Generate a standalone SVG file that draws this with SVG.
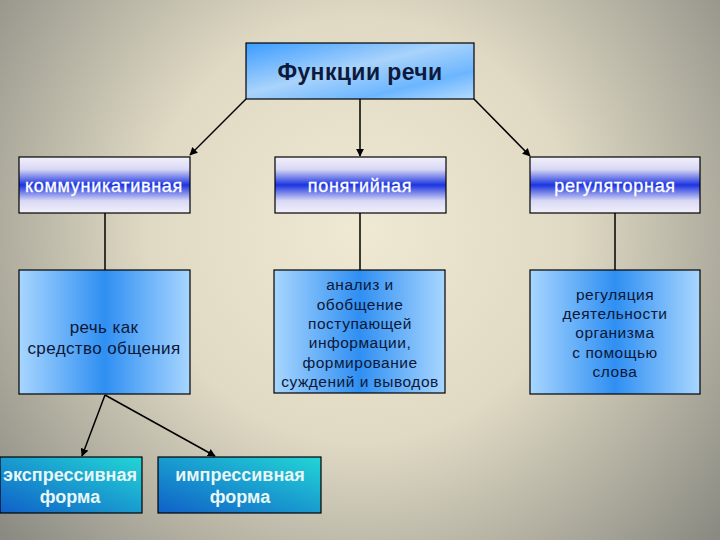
<svg xmlns="http://www.w3.org/2000/svg" width="720" height="540" viewBox="0 0 720 540">
<defs>
<radialGradient id="bg" cx="360" cy="230" r="470" gradientUnits="userSpaceOnUse">
<stop offset="0" stop-color="#efe9d4"/>
<stop offset="0.45" stop-color="#e0dac4"/>
<stop offset="1" stop-color="#8a8a82"/>
</radialGradient>
<linearGradient id="gTop" x1="0" y1="0" x2="1" y2="1">
<stop offset="0" stop-color="#3a9cff"/>
<stop offset="0.45" stop-color="#a9d3fb"/>
<stop offset="0.75" stop-color="#6cb6ff"/>
<stop offset="1" stop-color="#b4dcff"/>
</linearGradient>
<linearGradient id="gMid" x1="0" y1="0" x2="0" y2="1">
<stop offset="0" stop-color="#f2f0fb"/>
<stop offset="0.22" stop-color="#d8d8f4"/>
<stop offset="0.5" stop-color="#1b34e0"/>
<stop offset="0.78" stop-color="#d8d8f4"/>
<stop offset="1" stop-color="#f2f0fb"/>
</linearGradient>
<linearGradient id="gLow" x1="0" y1="0" x2="1" y2="0">
<stop offset="0" stop-color="#a8d6ff"/>
<stop offset="0.5" stop-color="#2f8ff2"/>
<stop offset="1" stop-color="#a8d6ff"/>
</linearGradient>
<linearGradient id="gBot" x1="1" y1="0" x2="0" y2="1">
<stop offset="0" stop-color="#22d6d6"/>
<stop offset="1" stop-color="#1060c8"/>
</linearGradient>
<marker id="arr" viewBox="0 0 10 10" refX="9" refY="5" markerWidth="8" markerHeight="8" markerUnits="userSpaceOnUse" orient="auto">
<path d="M0,0 L10,5 L0,10 z" fill="#000"/>
</marker>
<style>
.box{stroke:#000;stroke-width:1.2}
.line{stroke:#000;stroke-width:1.5;fill:none}
.t{font-family:"Liberation Sans",Arial,sans-serif;text-anchor:middle}
.top{font-size:23px;font-weight:bold;fill:#0d1a3c;letter-spacing:0.4px}
.mid{font-size:18px;fill:#ffffff;stroke:#ffffff;stroke-width:0.3;letter-spacing:0.7px}
.low{font-size:15.5px;fill:#0c1838;letter-spacing:0.5px}
.big{font-size:17px;letter-spacing:0.4px}
.bot{font-size:18px;font-weight:bold;fill:#e8f6f6}
</style>
</defs>
<rect x="0" y="0" width="720" height="540" fill="url(#bg)"/>
<g id="connectors">
<line class="line" x1="246" y1="99" x2="190" y2="155" marker-end="url(#arr)"/>
<line class="line" x1="360" y1="99" x2="360" y2="156" marker-end="url(#arr)"/>
<line class="line" x1="474" y1="99" x2="530" y2="156" marker-end="url(#arr)"/>
<line class="line" x1="105" y1="213" x2="105" y2="270"/>
<line class="line" x1="360" y1="213" x2="360" y2="270"/>
<line class="line" x1="615" y1="213" x2="615" y2="270"/>
<line class="line" x1="105" y1="395" x2="82" y2="456" marker-end="url(#arr)"/>
<line class="line" x1="105" y1="395" x2="215" y2="456" marker-end="url(#arr)"/>
</g>
<g id="n-top">
<rect class="box" x="246" y="43" width="228" height="56" fill="url(#gTop)"/>
<text class="t top" x="360" y="80">Функции речи</text>
</g>
<g id="n-komm">
<rect class="box" x="19" y="157" width="171" height="56" fill="url(#gMid)"/>
<text class="t mid" x="104" y="192">коммуникативная</text>
</g>
<g id="n-pon">
<rect class="box" x="275" y="157" width="171" height="56" fill="url(#gMid)"/>
<text class="t mid" x="360" y="192">понятийная</text>
</g>
<g id="n-reg">
<rect class="box" x="530" y="157" width="170" height="56" fill="url(#gMid)"/>
<text class="t mid" x="615" y="192">регуляторная</text>
</g>
<g id="n-komm2">
<rect class="box" x="19" y="270" width="171" height="124" fill="url(#gLow)"/>
<text class="t low big" x="104" y="333">речь как</text>
<text class="t low big" x="104" y="354">средство общения</text>
</g>
<g id="n-pon2">
<rect class="box" x="274" y="270" width="171" height="123" fill="url(#gLow)"/>
<text class="t low" x="360" y="290">анализ и</text>
<text class="t low" x="360" y="310">обобщение</text>
<text class="t low" x="360" y="329">поступающей</text>
<text class="t low" x="360" y="348">информации,</text>
<text class="t low" x="360" y="368">формирование</text>
<text class="t low" x="360" y="387">суждений и выводов</text>
</g>
<g id="n-reg2">
<rect class="box" x="530" y="270" width="170" height="124" fill="url(#gLow)"/>
<text class="t low" x="615" y="300">регуляция</text>
<text class="t low" x="615" y="319">деятельности</text>
<text class="t low" x="615" y="338">организма</text>
<text class="t low" x="615" y="358">с помощью</text>
<text class="t low" x="615" y="377">слова</text>
</g>
<g id="n-expr">
<rect class="box" x="0" y="457" width="142" height="56" fill="url(#gBot)"/>
<text class="t bot" x="70" y="481">экспрессивная</text>
<text class="t bot" x="70" y="503">форма</text>
</g>
<g id="n-impr">
<rect class="box" x="158" y="457" width="163" height="56" fill="url(#gBot)"/>
<text class="t bot" x="240" y="481">импрессивная</text>
<text class="t bot" x="240" y="503">форма</text>
</g>
</svg>
